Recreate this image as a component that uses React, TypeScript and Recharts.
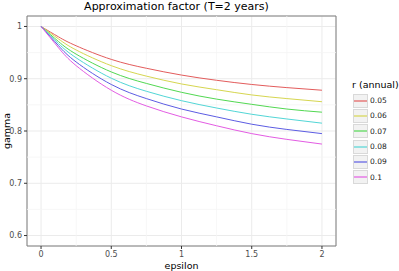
import React from 'react';
import {
  LineChart,
  Line,
  XAxis,
  YAxis,
  CartesianGrid,
  ReferenceLine,
  ReferenceArea,
  Label,
} from 'recharts';

const epsilon = [0, 0.125, 0.25, 0.5, 0.75, 1, 1.25, 1.5, 1.75, 2];

// gamma for each annual rate r
const r005 = [1, 0.98, 0.963, 0.937, 0.92, 0.907, 0.897, 0.889, 0.883, 0.878];
const r006 = [1, 0.976, 0.955, 0.925, 0.905, 0.89, 0.879, 0.869, 0.862, 0.856];
const r007 = [1, 0.971, 0.947, 0.913, 0.891, 0.874, 0.861, 0.851, 0.842, 0.836];
const r008 = [1, 0.967, 0.94, 0.901, 0.876, 0.858, 0.844, 0.832, 0.823, 0.815];
const r009 = [1, 0.963, 0.932, 0.889, 0.862, 0.842, 0.827, 0.813, 0.803, 0.795];
const r010 = [1, 0.959, 0.925, 0.878, 0.848, 0.827, 0.81, 0.795, 0.784, 0.775];

const seriesNames = ['0.05', '0.06', '0.07', '0.08', '0.09', '0.1'];
const seriesValues = [r005, r006, r007, r008, r009, r010];
const seriesColors = ['#e35c5c', '#d6d650', '#52d852', '#52d6d6', '#5c5ce3', '#e35ce3'];

const xTicks = [0, 0.5, 1, 1.5, 2];
const yTicks = [0.6, 0.7, 0.8, 0.9, 1];
const xMinor = [0.25, 0.75, 1.25, 1.75];
const yMinor = [0.65, 0.75, 0.85, 0.95];

const data = epsilon.map((e, i) => {
  const row: Record<string, number> = { epsilon: e };
  seriesNames.forEach((n, k) => {
    row[n] = seriesValues[k][i];
  });
  return row;
});

const font = '"DejaVu Sans", sans-serif';

const LegendBox = () => (
  <div style={{ position: 'absolute', left: 353, top: 79, fontFamily: font, color: '#000' }}>
    <div style={{ fontSize: 9.5, lineHeight: '12px', marginBottom: 2, marginLeft: -1 }}>r (annual)</div>
    {seriesNames.map((n, i) => (
      <div key={n} style={{ display: 'flex', alignItems: 'center', height: 15.3 }}>
        <svg width={15} height={14} style={{ display: 'block' }}>
          <rect x={0.5} y={0.5} width={14} height={13} fill="#f2f2f2" stroke="#d9d9d9" />
          <line x1={1} x2={14} y1={7} y2={7} stroke={seriesColors[i]} strokeWidth={1.2} />
        </svg>
        <span style={{ fontSize: 7.5, marginLeft: 2, color: '#1a1a1a' }}>{n}</span>
      </div>
    ))}
  </div>
);

export default function App() {
  return (
    <div style={{ position: 'absolute', left: 0, top: 0, width: 399, height: 271, background: '#fff' }}>
      <div
        style={{
          position: 'absolute',
          left: 0,
          width: 353,
          top: 0,
          textAlign: 'center',
          fontFamily: font,
          fontSize: 11,
          lineHeight: '13px',
          color: '#000',
        }}
      >
        Approximation factor (T=2 years)
      </div>
      <LineChart width={399} height={271} data={data} margin={{ top: 16, right: 63, bottom: 0, left: 0 }}>
        <CartesianGrid stroke="#ebebeb" strokeWidth={1} />
        {xMinor.map((v) => (
          <ReferenceLine key={`xm${v}`} x={v} stroke="#f5f5f5" strokeWidth={0.8} />
        ))}
        {yMinor.map((v) => (
          <ReferenceLine key={`ym${v}`} y={v} stroke="#f5f5f5" strokeWidth={0.8} />
        ))}
        <XAxis
          dataKey="epsilon"
          type="number"
          domain={[-0.1, 2.1]}
          ticks={xTicks}
          height={25}
          axisLine={false}
          tickLine={{ stroke: '#333' }}
          tickSize={3}
          tick={{ fontSize: 8, fill: '#4d4d4d', fontFamily: font }}
          tickFormatter={(v) => String(v)}
        >
          <Label value="epsilon" position="insideBottom" offset={2} style={{ fontSize: 9.5, fill: '#000', fontFamily: font }} />
        </XAxis>
        <YAxis
          type="number"
          domain={[0.58, 1.02]}
          ticks={yTicks}
          width={27}
          axisLine={false}
          tickLine={{ stroke: '#333' }}
          tickSize={3}
          tick={{ fontSize: 8, fill: '#4d4d4d', fontFamily: font }}
          tickFormatter={(v) => String(v)}
        >
          <Label value="gamma" angle={-90} position="insideLeft" offset={7} style={{ fontSize: 9.5, fill: '#000', fontFamily: font, textAnchor: 'middle' }} />
        </YAxis>
        <ReferenceArea x1={-0.1} x2={2.1} y1={0.58} y2={1.02} fill="none" stroke="#7f7f7f" strokeWidth={1} />
        {seriesNames.map((n, i) => (
          <Line
            key={n}
            dataKey={n}
            type="natural"
            stroke={seriesColors[i]}
            strokeWidth={1}
            dot={false}
            isAnimationActive={false}
          />
        ))}
      </LineChart>
      <LegendBox />
    </div>
  );
}
